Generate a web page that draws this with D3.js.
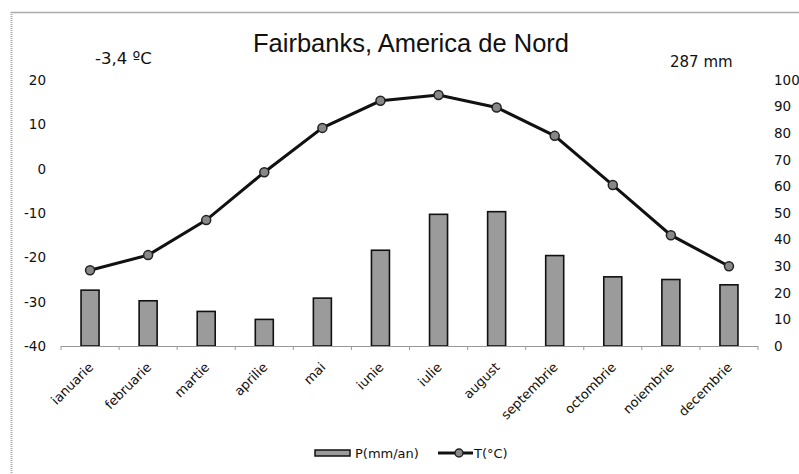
<!DOCTYPE html>
<html>
<head>
<meta charset="utf-8">
<script src="https://cdn.jsdelivr.net/npm/d3@7"></script>
<style>
  body { margin: 0; background: #fff; }
  svg { display: block; }
</style>
</head>
<body>
<svg width="799" height="474"></svg>
<script>
const months = ['ianuarie', 'februarie', 'martie', 'aprilie', 'mai', 'iunie',
  'iulie', 'august', 'septembrie', 'octombrie', 'noiembrie', 'decembrie'];
const precip = [21, 17, 13, 10, 18, 36, 49.5, 50.5, 34, 26, 25, 23]; // mm
const temp = [-22.9, -19.5, -11.6, -0.8, 9.2, 15.3, 16.6, 13.8, 7.4, -3.7, -15, -22]; // °C
const tempTicks = [20, 10, 0, -10, -20, -30, -40];
const precipTicks = [100, 90, 80, 70, 60, 50, 40, 30, 20, 10, 0];

const svg = d3.select('svg');
const lblFont = '"DejaVu Sans", sans-serif';

// frame of the original picture
svg.append('line').attr('x1', 11).attr('y1', 12.5).attr('x2', 799).attr('y2', 12.5)
  .attr('stroke', '#aaa').attr('stroke-width', 1.5);
svg.append('line').attr('x1', 11.5).attr('y1', 12).attr('x2', 11.5).attr('y2', 474)
  .attr('stroke', '#aaa').attr('stroke-width', 2).attr('stroke-dasharray', '1,1');

const x = d3.scaleBand().domain(months).range([61, 758]).paddingInner(0.69).paddingOuter(0.345);
const yT = d3.scaleLinear().domain([-40, 20]).range([346, 80]);
const yP = d3.scaleLinear().domain([0, 100]).range([346, 80]);

// left axis labels
svg.append('g').selectAll('text').data(tempTicks).enter().append('text')
  .attr('x', 46).attr('y', d => yT(d)).attr('dy', '0.36em')
  .attr('text-anchor', 'end').attr('font-family', lblFont).attr('font-size', 13.5)
  .attr('fill', '#111').text(d => d);

// right axis labels
svg.append('g').selectAll('text').data(precipTicks).enter().append('text')
  .attr('x', 774).attr('y', d => yP(d)).attr('dy', '0.36em')
  .attr('text-anchor', 'start').attr('font-family', lblFont).attr('font-size', 13.5)
  .attr('fill', '#111').text(d => d);

// bars
svg.append('g').selectAll('rect').data(precip).enter().append('rect')
  .attr('x', (d, i) => x(months[i]))
  .attr('y', d => yP(d))
  .attr('width', x.bandwidth())
  .attr('height', d => yP(0) - yP(d))
  .attr('fill', '#9b9b9b').attr('stroke', '#111').attr('stroke-width', 1.6);

// category axis
const step = x.step();
const ax = svg.append('g');
ax.append('line').attr('x1', 61).attr('x2', 758).attr('y1', 346.5).attr('y2', 346.5)
  .attr('stroke', '#999').attr('stroke-width', 1);
ax.selectAll('.tick').data(d3.range(months.length + 1)).enter().append('line')
  .attr('x1', i => 61 + i * step).attr('x2', i => 61 + i * step)
  .attr('y1', 346).attr('y2', 350).attr('stroke', '#999');
svg.append('g').selectAll('text').data(months).enter().append('text')
  .attr('transform', d => 'translate(' + (x(d) + x.bandwidth() / 2 + 4) + ',368) rotate(-45)')
  .attr('text-anchor', 'end').attr('font-family', lblFont).attr('font-size', 13)
  .attr('fill', '#111').text(d => d);

// temperature line
const line = d3.line().x((d, i) => x(months[i]) + x.bandwidth() / 2).y(d => yT(d));
svg.append('path').datum(temp).attr('d', line)
  .attr('fill', 'none').attr('stroke', '#111').attr('stroke-width', 3);
svg.append('g').selectAll('circle').data(temp).enter().append('circle')
  .attr('cx', (d, i) => x(months[i]) + x.bandwidth() / 2)
  .attr('cy', d => yT(d)).attr('r', 4.5)
  .attr('fill', '#888').attr('stroke', '#222').attr('stroke-width', 1.5);

// titles
svg.append('text').attr('x', 411).attr('y', 52).attr('text-anchor', 'middle')
  .attr('font-family', '"Liberation Sans", Arial, sans-serif').attr('font-size', 25.5)
  .attr('fill', '#111').text('Fairbanks, America de Nord');
svg.append('text').attr('x', 95).attr('y', 64)
  .attr('font-family', lblFont).attr('font-size', 16.5)
  .attr('fill', '#111').text('-3,4 ºC');
svg.append('text').attr('x', 670).attr('y', 67)
  .attr('font-family', lblFont).attr('font-size', 15)
  .attr('fill', '#111').text('287 mm');

// legend
const lg = svg.append('g');
lg.append('rect').attr('x', 315).attr('y', 450).attr('width', 35).attr('height', 6)
  .attr('fill', '#9b9b9b').attr('stroke', '#111').attr('stroke-width', 1.5);
lg.append('text').attr('x', 355).attr('y', 453).attr('dy', '0.36em')
  .attr('font-family', lblFont).attr('font-size', 13).attr('fill', '#111').text('P(mm/an)');
lg.append('line').attr('x1', 438).attr('x2', 473).attr('y1', 453).attr('y2', 453)
  .attr('stroke', '#111').attr('stroke-width', 3);
lg.append('circle').attr('cx', 459).attr('cy', 453).attr('r', 4)
  .attr('fill', '#888').attr('stroke', '#222').attr('stroke-width', 1.5);
lg.append('text').attr('x', 474).attr('y', 453).attr('dy', '0.36em')
  .attr('font-family', lblFont).attr('font-size', 13).attr('fill', '#111').text('T(°C)');
</script>
</body>
</html>
